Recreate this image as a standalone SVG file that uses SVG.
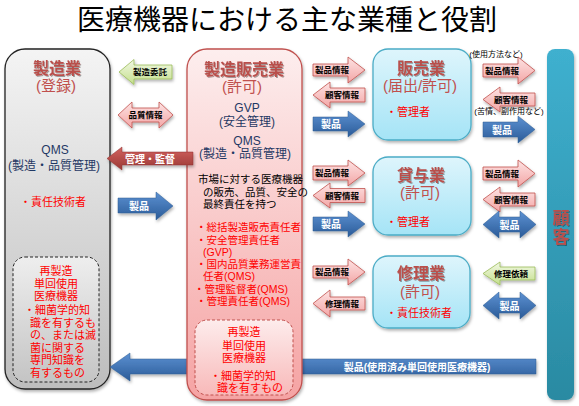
<svg xmlns="http://www.w3.org/2000/svg" width="579" height="406" viewBox="0 0 579 406">
<defs>
<linearGradient id="gGray" x1="0" y1="0" x2="0" y2="1"><stop offset="0" stop-color="#f4f4f4"/><stop offset="1" stop-color="#bdbdbd"/></linearGradient>
<linearGradient id="gGrayIn" x1="0" y1="0" x2="0" y2="1"><stop offset="0" stop-color="#eeeeee"/><stop offset="1" stop-color="#c4c4c4"/></linearGradient>
<linearGradient id="gPink" x1="0" y1="0" x2="0" y2="1"><stop offset="0" stop-color="#fdeeee"/><stop offset="1" stop-color="#f5a3a3"/></linearGradient>
<linearGradient id="gPinkIn" x1="0" y1="0" x2="0" y2="1"><stop offset="0" stop-color="#fdecec"/><stop offset="1" stop-color="#f8b9b9"/></linearGradient>
<linearGradient id="gCyan" x1="0" y1="0" x2="0" y2="1"><stop offset="0" stop-color="#def5fc"/><stop offset="1" stop-color="#a5e4f6"/></linearGradient>
<linearGradient id="gTeal" x1="0" y1="0" x2="0" y2="1"><stop offset="0" stop-color="#3fb0cf"/><stop offset="1" stop-color="#2a8aa2"/></linearGradient>
<linearGradient id="gArPink" x1="0" y1="0" x2="0" y2="1"><stop offset="0" stop-color="#fde3e3"/><stop offset="1" stop-color="#f3a6a6"/></linearGradient>
<linearGradient id="gArBlue" x1="0" y1="0" x2="0" y2="1"><stop offset="0" stop-color="#5d91d2"/><stop offset="1" stop-color="#2a5b98"/></linearGradient>
<linearGradient id="gArGreen" x1="0" y1="0" x2="0" y2="1"><stop offset="0" stop-color="#f2f8e4"/><stop offset="1" stop-color="#c4df8c"/></linearGradient>
<linearGradient id="gArRed" x1="0" y1="0" x2="0" y2="1"><stop offset="0" stop-color="#d2625f"/><stop offset="1" stop-color="#9a3835"/></linearGradient>
<filter id="sh" x="-10%" y="-10%" width="130%" height="130%"><feDropShadow dx="1" dy="2" stdDeviation="1.5" flood-color="#000" flood-opacity="0.3"/></filter>
<filter id="tsh" x="-10%" y="-10%" width="130%" height="140%"><feDropShadow dx="1" dy="1" stdDeviation="0.6" flood-color="#000" flood-opacity="0.35"/></filter>
<style>
text{font-family:"Liberation Sans","Noto Sans CJK JP",sans-serif;}
.title{font-size:28px;fill:#000;text-anchor:middle;}
.h{font-size:16px;font-weight:bold;fill:#b9504c;text-anchor:middle;filter:url(#tsh);}
.sub{font-size:15px;fill:#c0504d;text-anchor:middle;}
.navy{font-size:12px;fill:#1f3864;text-anchor:middle;}
.red{font-size:11px;fill:#ff0000;}
.redc{font-size:11px;fill:#ff0000;text-anchor:middle;}
.redm{font-size:10.5px;fill:#ff0000;}
.blk{font-size:10.5px;fill:#000;}
.lab{font-size:8.5px;font-weight:bold;fill:#000;text-anchor:middle;}
.wl{font-size:10px;font-weight:bold;fill:#fff;text-anchor:middle;}
.note{font-size:8px;fill:#000;text-anchor:middle;}
.pk{fill:url(#gArPink);stroke:#c0504d;stroke-width:0.8;filter:url(#sh);}
.bl{fill:url(#gArBlue);stroke:#2f5d93;stroke-width:0.5;filter:url(#sh);}
.gr{fill:url(#gArGreen);stroke:#9bbb59;stroke-width:0.8;filter:url(#sh);}
.rd{fill:url(#gArRed);stroke:#8c3331;stroke-width:0.5;filter:url(#sh);}
</style>
</defs>
<rect width="579" height="406" fill="#fff"/>
<text class="title" x="287" y="30">医療機器における主な業種と役割</text>

<g id="manufacturer">
<rect x="5" y="49" width="105" height="340" rx="20" fill="url(#gGray)" stroke="#222" stroke-width="1.3" filter="url(#sh)"/>
<text class="h" x="57" y="74">製造業</text>
<text class="sub" x="56" y="91">(登録)</text>
<text class="navy" x="55" y="154">QMS</text>
<text class="navy" x="54" y="170">(製造・品質管理)</text>
<text class="redc" x="53" y="206">・責任技術者</text>
<rect x="13" y="257" width="86" height="125" rx="12" fill="url(#gGrayIn)" stroke="#222" stroke-width="1" stroke-dasharray="3,2"/>
<text class="redc" x="56" y="275">再製造</text>
<text class="redc" x="56" y="287.5">単回使用</text>
<text class="redc" x="56" y="300">医療機器</text>
<text class="red" x="24" y="314">・細菌学的知</text>
<text class="red" x="30" y="326.5">識を有するも</text>
<text class="red" x="30" y="339">の、または滅</text>
<text class="red" x="30" y="351.5">菌に関する</text>
<text class="red" x="30" y="364">専門知識を</text>
<text class="red" x="30" y="376.5">有するもの</text>
</g>

<g id="connectors-back">
<path class="bl" d="M536,359 L130,359 L130,353 L110,367 L130,381 L130,374 L536,374 Z"/>
<text class="wl" x="417" y="371">製品(使用済み単回使用医療機器)</text>
</g>

<g id="mah">
<rect x="187" y="49" width="115" height="351" rx="20" fill="url(#gPink)" stroke="#c0504d" stroke-width="1.3" filter="url(#sh)"/>
<text class="h" x="244" y="75">製造販売業</text>
<text class="sub" x="242" y="92">(許可)</text>
<text class="navy" x="247" y="112">GVP</text>
<text class="navy" x="247" y="126">(安全管理)</text>
<text class="navy" x="247" y="145">QMS</text>
<text class="navy" x="245" y="158">(製造・品質管理)</text>
<text class="blk" x="198" y="183">市場に対する医療機器</text>
<text class="blk" x="203" y="196">の販売、品質、安全の</text>
<text class="blk" x="203" y="208">最終責任を持つ</text>
<text class="redm" x="196" y="231">・総括製造販売責任者</text>
<text class="redm" x="196" y="244">・安全管理責任者</text>
<text class="redm" x="203" y="256">(GVP)</text>
<text class="redm" x="196" y="268">・国内品質業務運営責</text>
<text class="redm" x="203" y="280">任者(QMS)</text>
<text class="redm" x="194" y="293">・管理監督者(QMS)</text>
<text class="redm" x="196" y="305">・管理責任者(QMS)</text>
<rect x="195" y="320" width="98" height="75" rx="12" fill="url(#gPinkIn)" stroke="#c0504d" stroke-width="1" stroke-dasharray="3,2"/>
<text class="redc" x="244" y="336">再製造</text>
<text class="redc" x="244" y="350">単回使用</text>
<text class="redc" x="244" y="362">医療機器</text>
<text class="red" x="210" y="380">・細菌学的知</text>
<text class="red" x="217" y="392">識を有すもの</text>
</g>

<g id="seller">
<rect x="373" y="49" width="98" height="91" rx="15" fill="url(#gCyan)" stroke="#4bacc6" stroke-width="1.3" filter="url(#sh)"/>
<text class="h" x="421" y="74">販売業</text>
<text class="sub" x="420" y="91">(届出/許可)</text>
<text class="red" x="386" y="116">・管理者</text>
</g>

<g id="lender">
<rect x="373" y="157" width="98" height="78" rx="15" fill="url(#gCyan)" stroke="#4bacc6" stroke-width="1.3" filter="url(#sh)"/>
<text class="h" x="421" y="181">貸与業</text>
<text class="sub" x="420" y="198">(許可)</text>
<text class="red" x="386" y="226">・管理者</text>
</g>

<g id="repair">
<rect x="373" y="256" width="97" height="72" rx="15" fill="url(#gCyan)" stroke="#4bacc6" stroke-width="1.3" filter="url(#sh)"/>
<text class="h" x="421" y="279">修理業</text>
<text class="sub" x="420" y="297">(許可)</text>
<text class="red" x="386" y="317">・責任技術者</text>
</g>

<g id="customer">
<rect x="547" y="49" width="27" height="351" rx="8" fill="url(#gTeal)" filter="url(#sh)"/>
<text class="h" x="561" y="224" style="font-size:17px">顧</text>
<text class="h" x="561" y="243" style="font-size:17px">客</text>
</g>

<g id="connectors">
<path class="gr" d="M172,65 L134,65 L134,59.5 L119,72 L134,84.5 L134,79 L172,79 Z"/>
<text class="lab" x="150" y="75">製造委託</text>
<path class="pk" d="M118,115 L132,102 L132,108 L159,108 L159,102 L173,115 L159,128 L159,122 L132,122 L132,128 Z"/>
<text class="lab" x="145.5" y="118">品質情報</text>
<path class="rd" d="M193,152 L122,152 L122,147 L107,158.5 L122,170 L122,165 L193,165 Z"/>
<text class="wl" x="150" y="162.5">管理・監督</text>
<path class="bl" d="M118,198 L156,198 L156,192 L173,206 L156,220 L156,213 L118,213 Z"/>
<text class="wl" x="139" y="210">製品</text>

<path class="pk" d="M313,64 L348,64 L348,57 L365,70 L348,83 L348,76 L313,76 Z"/>
<text class="lab" x="332" y="73">製品情報</text>
<path class="pk" d="M365,88 L330,88 L330,82 L313,95 L330,108 L330,102 L365,102 Z"/>
<text class="lab" x="342" y="98">顧客情報</text>
<path class="bl" d="M313,117 L348,117 L348,111 L365,124 L348,137 L348,131 L313,131 Z"/>
<text class="wl" x="331" y="128">製品</text>

<path class="pk" d="M313,166 L348,166 L348,160 L365,173 L348,186 L348,180 L313,180 Z"/>
<text class="lab" x="332" y="176">製品情報</text>
<path class="pk" d="M365,188.5 L330,188.5 L330,183 L313,195.5 L330,208 L330,202.5 L365,202.5 Z"/>
<text class="lab" x="342" y="198.5">顧客情報</text>
<path class="bl" d="M313,217 L348,217 L348,211 L365,224 L348,237 L348,231 L313,231 Z"/>
<text class="wl" x="331" y="228">製品</text>

<path class="pk" d="M313,266 L348,266 L348,259 L365,272 L348,285 L348,278 L313,278 Z"/>
<text class="lab" x="332" y="275">製品情報</text>
<path class="pk" d="M365,297 L330,297 L330,290 L313,303.5 L330,317 L330,310 L365,310 Z"/>
<text class="lab" x="342" y="306.5">修理情報</text>

<text class="note" x="496" y="57">(使用方法など)</text>
<path class="pk" d="M483,64 L518,64 L518,57 L535,70.5 L518,84 L518,77 L483,77 Z"/>
<text class="lab" x="502" y="73.5">製品情報</text>
<path class="pk" d="M535,93 L500,93 L500,87 L483,99.5 L500,112 L500,106 L535,106 Z"/>
<text class="lab" x="511" y="102.5">顧客情報</text>
<text class="note" x="509" y="114">(苦情、副作用など)</text>
<path class="bl" d="M483,122 L518,122 L518,116 L535,129.5 L518,143 L518,137 L483,137 Z"/>
<text class="wl" x="502" y="133.5">製品</text>

<path class="pk" d="M483,167 L518,167 L518,160 L535,173.5 L518,187 L518,180 L483,180 Z"/>
<text class="lab" x="502" y="176.5">製品情報</text>
<path class="pk" d="M535,193 L500,193 L500,187 L483,199.5 L500,212 L500,206 L535,206 Z"/>
<text class="lab" x="511" y="202.5">顧客情報</text>
<path class="bl" d="M483,224.5 L499,211 L499,217 L520,217 L520,211 L536,224.5 L520,238 L520,232 L499,232 L499,238 Z"/>
<text class="wl" x="509.5" y="228.5">製品</text>

<path class="gr" d="M535,267 L500,267 L500,262 L483,273.5 L500,285 L500,280 L535,280 Z"/>
<text class="lab" x="511" y="276.5">修理依頼</text>
<path class="bl" d="M483,305.5 L499,292 L499,298 L520,298 L520,292 L536,305.5 L520,319 L520,313 L499,313 L499,319 Z"/>
<text class="wl" x="509.5" y="309.5">製品</text>
</g>
</svg>
